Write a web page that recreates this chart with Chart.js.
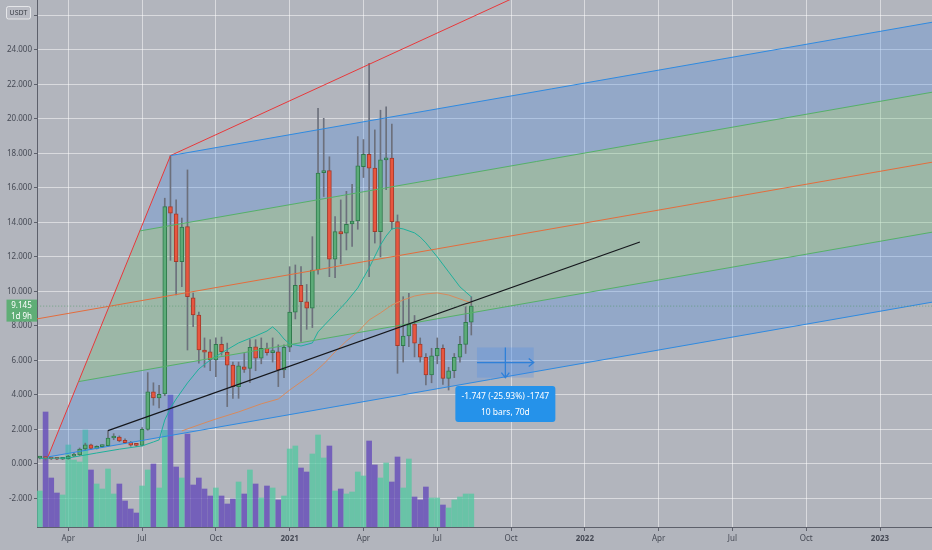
<!DOCTYPE html>
<html>
<head>
<meta charset="utf-8">
<title>Weekly USDT chart</title>
<script src="https://cdn.jsdelivr.net/npm/chart.js@4.4.1/dist/chart.umd.min.js"></script>
<style>
  html, body { margin: 0; padding: 0; background: #b2b5bd; }
  #wrap { width: 932px; height: 550px; }
</style>
</head>
<body>
<div id="wrap"><canvas id="chart"></canvas></div>
<script>
// weekly bars, bar 0 = week of 2 Mar 2020
const opens = [0.33, 0.36, 0.30, 0.28, 0.27, 0.30, 0.45, 0.52, 0.86, 1.10,
  0.90, 1.00, 1.05, 1.50, 1.55, 1.36, 1.25, 1.10, 1.07, 2.00,
  4.17, 3.82, 4.05, 14.91, 14.49, 11.72, 13.75, 9.63, 8.63, 6.60,
  6.50, 6.02, 6.93, 6.47, 5.72, 4.48, 5.63, 5.54, 6.79, 6.12,
  6.70, 6.45, 6.50, 5.44, 6.76, 8.80, 10.35, 9.40, 9.02, 11.24,
  16.88, 17.00, 11.86, 13.46, 13.37, 13.91, 14.08, 17.23, 17.95, 17.14,
  13.46, 17.62, 17.72, 14.04, 6.85, 7.41, 8.11, 6.95, 6.18, 5.15,
  6.26, 6.70, 4.96, 5.40, 6.18, 6.93, 8.21];
const highs = [0.42, 0.40, 0.33, 0.32, 0.33, 0.50, 0.62, 0.92, 1.20, 1.15,
  1.05, 1.10, 1.93, 1.75, 1.62, 1.45, 1.30, 1.16, 2.10, 5.29,
  4.70, 4.55, 15.40, 17.87, 15.30, 14.25, 17.04, 9.90, 8.80, 7.30,
  7.20, 7.30, 7.35, 7.00, 5.90, 5.90, 6.40, 7.20, 7.20, 7.30,
  7.00, 7.30, 6.90, 6.90, 11.43, 11.53, 11.43, 10.40, 13.17, 20.61,
  20.03, 17.80, 14.33, 15.30, 15.80, 16.20, 18.97, 18.80, 23.22, 19.36,
  20.50, 20.70, 19.70, 14.43, 9.69, 9.89, 8.60, 7.30, 6.40, 6.70,
  7.30, 6.90, 5.60, 6.40, 7.40, 9.11, 9.69];
const lows = [0.28, 0.22, 0.25, 0.24, 0.25, 0.27, 0.42, 0.48, 0.80, 0.85,
  0.86, 0.95, 1.02, 1.40, 1.28, 1.18, 1.02, 1.00, 1.04, 1.95,
  3.40, 3.25, 3.95, 11.80, 9.79, 10.27, 6.60, 7.95, 5.83, 5.60,
  5.40, 5.06, 6.30, 3.32, 3.80, 3.80, 5.30, 4.70, 5.40, 5.80,
  6.30, 5.90, 4.48, 5.00, 6.50, 8.40, 7.10, 7.80, 7.90, 11.00,
  15.50, 10.85, 10.80, 11.60, 12.40, 12.60, 13.60, 16.60, 10.85, 12.80,
  12.00, 15.90, 13.60, 5.25, 5.90, 6.80, 6.20, 5.90, 4.57, 4.70,
  5.80, 4.60, 4.28, 5.00, 5.90, 6.40, 7.47];
const closes = [0.36, 0.30, 0.28, 0.27, 0.30, 0.45, 0.52, 0.86, 1.10, 0.90,
  1.00, 1.05, 1.50, 1.55, 1.33, 1.23, 1.08, 1.07, 2.00, 4.17,
  3.82, 4.03, 14.91, 14.53, 11.72, 13.72, 9.69, 8.63, 6.60, 6.47,
  6.02, 6.93, 6.50, 5.72, 4.48, 5.68, 5.48, 6.76, 6.12, 6.70,
  6.45, 6.49, 5.44, 6.76, 8.80, 10.35, 9.40, 9.02, 11.24, 16.85,
  16.99, 11.86, 13.46, 13.33, 13.89, 14.08, 17.27, 17.95, 17.14, 13.46,
  17.62, 17.72, 14.04, 6.85, 7.41, 8.11, 6.99, 6.18, 5.15, 6.26,
  6.70, 4.96, 5.40, 6.18, 6.93, 8.21, 9.145];
const volumes = [3.6, 11.5, 4.9, 3.4, 3.2, 8.2, 6.7, 6.5, 9.7, 5.7,
  4.3, 3.8, 5.8, 3.3, 4.3, 2.6, 1.8, 1.4, 4.1, 5.7,
  6.3, 3.9, 9.7, 13.2, 6.0, 4.9, 9.3, 4.2, 4.9, 3.8,
  3.1, 3.9, 3.1, 2.3, 2.8, 4.5, 3.3, 5.7, 4.3, 2.9,
  4.1, 3.9, 2.7, 3.1, 7.8, 8.1, 5.9, 5.5, 7.3, 9.2,
  6.9, 8.1, 3.6, 3.8, 3.3, 3.5, 5.5, 5.1, 8.6, 6.2,
  4.9, 6.4, 4.5, 7.0, 3.9, 6.8, 3.0, 2.7, 4.0, 2.9,
  2.9, 2.2, 1.9, 2.7, 3.0, 3.3, 3.3];

// moving averages: bar index -> value
const maFastBars = [0, 5, 10, 14, 18, 20, 21, 22, 23, 24, 26, 28, 30, 32, 35, 38, 40, 41, 42, 43,
  44, 46, 48, 49, 50, 52, 54, 56, 58, 60, 61, 62, 63, 64, 66, 67, 68, 70, 72, 74, 76];
const maFastValues = [0.32, 0.34, 0.63, 0.85, 1.04, 1.27, 1.39, 2.54, 3.24, 3.76, 4.69, 5.50, 6.02, 6.43, 7.01, 7.41, 7.70, 7.94, 7.65, 7.24,
  6.95, 6.83, 7.01, 7.65, 8.0, 8.69, 9.39, 10.2, 11.36, 12.69, 13.21, 13.62, 13.68, 13.62, 13.39, 13.15, 12.81, 12.0, 11.13, 10.26, 9.68];
const maSlowBars = [25, 28, 31, 35, 39, 42, 44, 46, 48, 50, 52, 54, 56, 58, 60, 62, 64, 66, 68, 70, 72, 74, 76];
const maSlowValues = [1.91, 2.26, 2.60, 3.01, 3.48, 3.76, 4.28, 4.75, 5.21, 5.79, 6.49, 7.12, 7.65, 8.34, 8.75, 9.21, 9.50, 9.73, 9.85, 9.91, 9.79, 9.56, 9.33];

const xTickBars = [5, 18, 31, 44, 57, 70, 83, 96, 109, 122, 135, 148];
const xTickLabels = ['Apr', 'Jul', 'Oct', '2021', 'Apr', 'Jul', 'Oct', '2022', 'Apr', 'Jul', 'Oct', '2023'];
const yTicks = [-2, 0, 2, 4, 6, 8, 10, 12, 14, 16, 18, 20, 22, 24, 26];

// drawings, as [bar, price]
const forkA = [-20, 7.28];
const forkB = [23, 17.87];
const forkC = [1.4, 0.40];
const redRay = [[23, 17.87], [90, 28.0]];
const trendLine = [[12, 1.93], [105.7, 12.86]];
const measureFrom = [77, 6.747];
const measureTo = [87, 5.0];
const measureText = ['-1.747 (-25.93%) -1747', '10 bars, 70d'];
const currency = 'USDT';
const countdown = '1d 9h';

const FONT = '"Noto Sans", "DejaVu Sans", sans-serif';
const axisText = '#464a55';
const axisLine = '#5d606b';
const gridColor = 'rgba(255,255,255,0.5)';

// pitchfork geometry from its three anchors
const forkEnd = 175;
const mid = [(forkB[0] + forkC[0]) / 2, (forkB[1] + forkC[1]) / 2];
const slope = (mid[1] - forkA[1]) / (mid[0] - forkA[0]);
const ray = (p) => [{x: p[0], y: p[1]}, {x: forkEnd, y: p[1] + slope * (forkEnd - p[0])}];
const half = (p, q) => [(p[0] + q[0]) / 2, (p[1] + q[1]) / 2];
const g1 = half(mid, forkB);
const g2 = half(mid, forkC);
const band = (p, q) => { const a = ray(p), b = ray(q); return [a[0], a[1], b[1], b[0]]; };
const pts = (arr) => arr.map(p => ({x: p[0], y: p[1]}));

const bars = opens.map((_, i) => i);
const up = (i) => closes[i] >= opens[i];

const line = (data, color, width, order, extra) => Object.assign({
  type: 'line', data, borderColor: color, borderWidth: width,
  pointRadius: 0, tension: 0, fill: false, order
}, extra || {});
const area = (data, color) => ({
  type: 'line', data, borderWidth: 0, backgroundColor: color,
  pointRadius: 0, tension: 0, fill: 'shape', order: 9
});

const overlay = {
  id: 'overlay',
  beforeDraw(chart) {
    const ctx = chart.ctx;
    ctx.save();
    ctx.fillStyle = '#b2b5bd';
    ctx.fillRect(0, 0, chart.width, chart.height);
    ctx.restore();
  },
  afterDatasetsDraw(chart) {
    const ctx = chart.ctx, xs = chart.scales.x, ys = chart.scales.y;
    const x1 = xs.getPixelForValue(measureFrom[0]), x2 = xs.getPixelForValue(measureTo[0]);
    const y1 = ys.getPixelForValue(measureFrom[1]), y2 = ys.getPixelForValue(measureTo[1]);
    const xm = (x1 + x2) / 2, ym = (y1 + y2) / 2;
    ctx.save();
    ctx.fillStyle = 'rgba(60,130,235,0.22)';
    ctx.fillRect(x1, y1, x2 - x1, y2 - y1);
    ctx.strokeStyle = '#2f80d8';
    ctx.lineWidth = 1.3;
    ctx.beginPath();
    ctx.moveTo(x1, ym); ctx.lineTo(x2, ym);
    ctx.moveTo(x2 - 5, ym - 4); ctx.lineTo(x2, ym); ctx.lineTo(x2 - 5, ym + 4);
    ctx.moveTo(xm, y1); ctx.lineTo(xm, y2);
    ctx.moveTo(xm - 4, y2 - 5); ctx.lineTo(xm, y2); ctx.lineTo(xm + 4, y2 - 5);
    ctx.stroke();
    // result label
    const bw = 100, bh = 36, bx = xm - bw / 2, by = y2 + 8.5;
    ctx.fillStyle = '#2592ea';
    ctx.beginPath();
    ctx.roundRect(bx, by, bw, bh, 3);
    ctx.fill();
    ctx.fillStyle = '#ffffff';
    ctx.font = '8.5px ' + FONT;
    ctx.textAlign = 'center';
    ctx.textBaseline = 'middle';
    ctx.fillText(measureText[0], xm, by + 10.7);
    ctx.fillText(measureText[1], xm, by + 26.7);
    ctx.restore();
  },
  afterDraw(chart) {
    const ctx = chart.ctx, ys = chart.scales.y;
    ctx.save();
    // currency badge
    ctx.fillStyle = '#b9bbc3';
    ctx.strokeStyle = 'rgba(255,255,255,0.65)';
    ctx.lineWidth = 1;
    ctx.beginPath();
    ctx.roundRect(6.5, 6.5, 24, 12.5, 2);
    ctx.fill(); ctx.stroke();
    ctx.fillStyle = '#3d4049';
    ctx.font = '7px ' + FONT;
    ctx.textAlign = 'center';
    ctx.textBaseline = 'middle';
    ctx.fillText(currency, 18.5, 13);
    // last price label
    const last = closes[closes.length - 1];
    const py = ys.getPixelForValue(last);
    ctx.fillStyle = '#5fae76';
    ctx.fillRect(6.5, py - 6.5, 30.5, 22);
    ctx.fillStyle = '#ffffff';
    ctx.font = '8px ' + FONT;
    ctx.fillText(last.toFixed(3), 21.5, py);
    ctx.fillText(countdown, 21.5, py + 10.5);
    ctx.restore();
  }
};

const lastClose = closes[closes.length - 1];

new Chart(document.getElementById('chart'), {
  type: 'bar',
  data: {
    datasets: [
      {
        type: 'bar', yAxisID: 'yVol', order: 10, grouped: false, barThickness: 5,
        data: bars.map(i => ({x: i, y: volumes[i]})),
        backgroundColor: bars.map(i => up(i) ? 'rgba(80,200,160,0.75)' : 'rgba(100,75,185,0.8)')
      },
      area(band(forkB, g1), 'rgba(70,135,230,0.28)'),
      area(band(g1, g2), 'rgba(100,190,110,0.28)'),
      area(band(g2, forkC), 'rgba(70,135,230,0.28)'),
      {
        type: 'bar', order: 7, grouped: false, barThickness: 1,
        data: bars.map(i => ({x: i, y: [lows[i], highs[i]]})),
        backgroundColor: '#6c707c'
      },
      {
        type: 'bar', order: 6, grouped: false, barThickness: 4, minBarLength: 2,
        borderWidth: 1, borderSkipped: false,
        data: bars.map(i => ({x: i, y: [opens[i], closes[i]]})),
        backgroundColor: bars.map(i => up(i) ? '#5cab78' : '#e8563f'),
        borderColor: bars.map(i => up(i) ? '#2f7a4c' : '#a33a2b')
      },
      line(maFastBars.map((b, k) => ({x: b, y: maFastValues[k]})), '#1fb09c', 1, 5),
      line(maSlowBars.map((b, k) => ({x: b, y: maSlowValues[k]})), '#d88a5c', 1, 5),
      line(ray(forkB), '#2f8ae0', 1, 4),
      line(ray(forkC), '#2f8ae0', 1, 4),
      line(ray(g1), '#55b068', 1, 4),
      line(ray(g2), '#55b068', 1, 4),
      line(ray(forkA), '#e36d3d', 1, 4),
      line(pts([forkB, forkC]), '#e8383a', 1, 4),
      line(pts(redRay), '#e8383a', 1, 4),
      line(pts(trendLine), '#15171c', 1.2, 3),
      line([{x: -1, y: lastClose}, {x: 160, y: lastClose}], 'rgba(70,150,95,0.6)', 1, 2, {borderDash: [1, 2]})
    ]
  },
  options: {
    responsive: true,
    maintainAspectRatio: false,
    animation: false,
    layout: { padding: 0 },
    font: { family: FONT },
    plugins: { legend: { display: false }, tooltip: { enabled: false } },
    scales: {
      x: {
        type: 'linear', min: -0.51, max: 157.16, offset: false,
        grid: { offset: false, color: gridColor, tickColor: axisLine, tickLength: 4 },
        border: { color: axisLine },
        afterBuildTicks: (s) => { s.ticks = xTickBars.map(v => ({value: v})); },
        afterFit: (s) => { s.height = 23; s.paddingLeft = 0; s.paddingRight = 0; },
        ticks: {
          autoSkip: false, maxRotation: 0, padding: 3, color: axisText,
          font: (ctx) => ({ family: FONT, size: 8, weight: /^\d{4}$/.test(xTickLabels[ctx.index]) ? 'bold' : 'normal' }),
          callback: (v, i) => xTickLabels[i]
        }
      },
      y: {
        type: 'linear', position: 'left', min: -3.66, max: 26.89,
        grid: { color: gridColor, tickColor: axisLine, tickLength: 3 },
        border: { color: axisLine },
        afterBuildTicks: (s) => { s.ticks = yTicks.map(v => ({value: v})); },
        afterFit: (s) => { s.width = 37; s.paddingTop = 0; s.paddingBottom = 0; },
        ticks: {
          autoSkip: false, padding: 2, color: axisText, font: { family: FONT, size: 8 },
          callback: (v) => v > 24 ? '' : v.toFixed(3)
        }
      },
      yVol: { type: 'linear', display: false, min: 0, max: 52.7 }
    }
  },
  plugins: [overlay]
});
</script>
</body>
</html>
